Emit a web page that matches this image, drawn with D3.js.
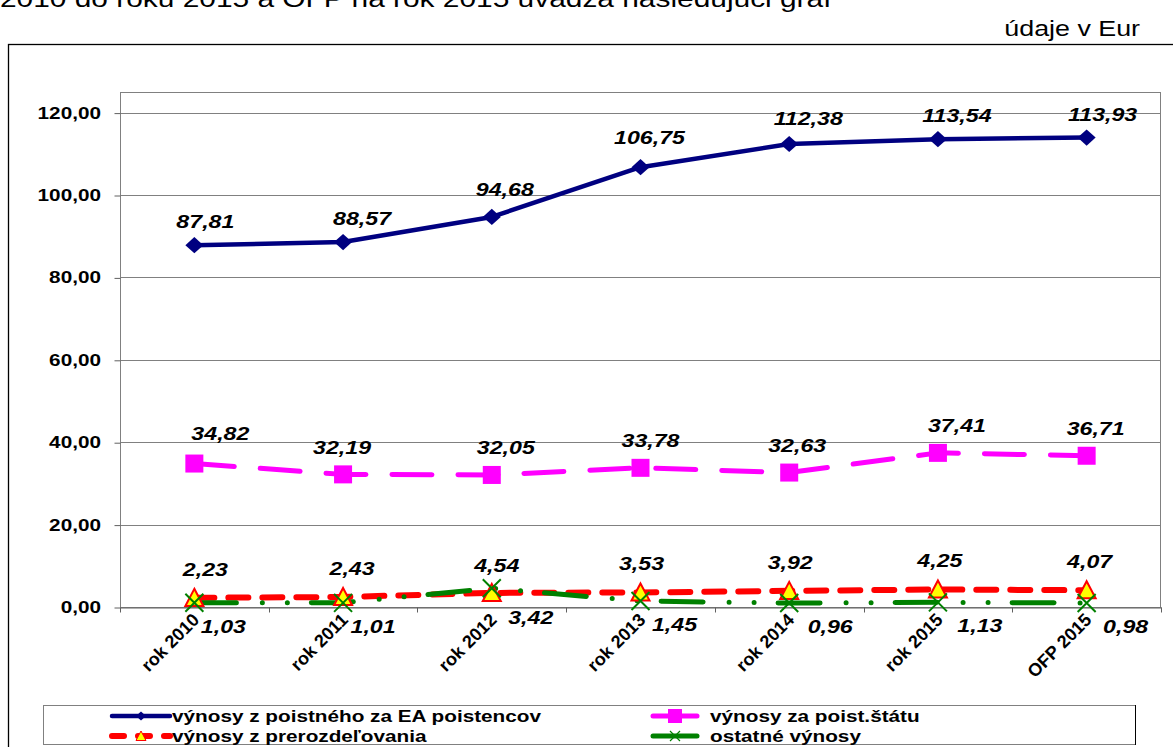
<!DOCTYPE html>
<html>
<head>
<meta charset="utf-8">
<script src="https://cdn.jsdelivr.net/npm/d3@7/dist/d3.min.js"></script>
<style>
	body { margin: 0; background: #fff; }
	svg { display: block; }
	text { font-family: "Liberation Sans", Arial, sans-serif; fill: #000; }
</style>
</head>
<body>
<svg id="chart" width="1173" height="747"></svg>
<script>
var categories = ['rok 2010', 'rok 2011', 'rok 2012', 'rok 2013', 'rok 2014', 'rok 2015', 'OFP 2015'];
var poistneEA = [87.81, 88.57, 94.68, 106.75, 112.38, 113.54, 113.93];
var poistStatu = [34.82, 32.19, 32.05, 33.78, 32.63, 37.41, 36.71];
var prerozdelovanie = [2.23, 2.43, 3.42, 3.53, 3.92, 4.25, 4.07];
var ostatne = [1.03, 1.01, 4.54, 1.45, 0.96, 1.13, 0.98];
var yTicks = [0, 20, 40, 60, 80, 100, 120];
var seriesNames = ['výnosy z poistného za EA poistencov', 'výnosy za poist.štátu', 'výnosy z prerozdeľovania', 'ostatné výnosy'];

// label nudges (dx, dy of label centre from its point)
var labelDx = {
	ea: [11, 19, 13, 9, 19, 19, 16],
	st: [26, -1, 14, 10, 8, 19, 9],
	pr: [11, 9, 39, 1, 1, 2, 3],
	os: [29, 30, 5, 34, 41, 42, 39]
};
var labelDy = {
	ea: [-24, -24, -28, -30, -26, -24, -24],
	st: [-31, -27, -28, -28, -28, -28, -28],
	pr: [-29, -29, 24, -29, -29, -29, -29],
	os: [23, 23, -23, 23, 23, 23, 23]
};

var SX = 1.22; // picture is stretched sideways
var svg = d3.select('#chart');

var x = d3.scaleBand().domain(categories).range([120, 1161]);
var y = d3.scaleLinear().domain([0, 125]).range([607, 92]);
var cx = function (i) { return x(categories[i]) + x.bandwidth() / 2; };
var fmt = function (v) { return v.toFixed(2).replace('.', ','); };

function stext(parent, px, py, str, o) {
	var sx = o.sx || SX;
	var g = parent.append('g')
		.attr('transform', 'translate(' + px + ',' + py + ') scale(' + sx + ',1)' + (o.rotate ? ' rotate(' + o.rotate + ')' : ''));
	return g.append('text')
		.attr('text-anchor', o.anchor || 'start')
		.style('font-size', o.size + 'px')
		.style('font-weight', o.weight || 'bold')
		.style('font-style', o.italic ? 'italic' : 'normal')
		.text(str);
}

// heading text
stext(svg, 0, 7, '2010 do roku 2015 a OFP na rok 2015 uvádza nasledujúci graf', { size: 24.5, weight: 'normal' });
stext(svg, 1140, 36, 'údaje v Eur', { size: 22, weight: 'normal', anchor: 'end' });

// chart frame
svg.append('rect').attr('x', 8.5).attr('y', 44.5).attr('width', 1300).attr('height', 800)
	.attr('fill', 'none').attr('stroke', '#000').attr('stroke-width', 1.3);

// gridlines
svg.append('g').selectAll('line').data(yTicks.filter(function (d) { return d > 0; })).enter().append('line')
	.attr('x1', 120).attr('x2', 1161)
	.attr('y1', function (d) { return Math.round(y(d)) + 0.5; })
	.attr('y2', function (d) { return Math.round(y(d)) + 0.5; })
	.attr('stroke', '#808080').attr('stroke-width', 1);

svg.append('rect').attr('x', 120.5).attr('y', 92.5).attr('width', 1040).attr('height', 515)
	.attr('fill', 'none').attr('stroke', '#808080').attr('stroke-width', 1);

// y axis
var yAxis = d3.axisLeft(y).tickValues(yTicks).tickSize(6).tickFormat('');
var ya = svg.append('g').attr('transform', 'translate(120.5,0.5)').call(yAxis);
ya.selectAll('line, path').attr('stroke', '#606060');
ya.select('.domain').remove();
yTicks.forEach(function (t) {
	stext(svg, 101, y(t) + 6, fmt(t), { size: 17, anchor: 'end' });
});

// x axis
var xa = svg.append('g').attr('transform', 'translate(0.5,' + 607.5 + ')')
	.call(d3.axisBottom(x).tickSize(0).tickFormat(''));
xa.select('.domain').attr('stroke', '#606060');
var bounds = categories.map(function (c) { return x(c); }).concat([1161]);
xa.selectAll('.bnd').data(bounds).enter().append('line')
	.attr('x1', function (d) { return Math.round(d); }).attr('x2', function (d) { return Math.round(d); })
	.attr('y1', 0).attr('y2', 5).attr('stroke', '#606060');
categories.forEach(function (c, i) {
	stext(svg, cx(i) + 6, 621, c, { size: 18, anchor: 'end', rotate: -45, sx: 1 });
});

// series
var line = d3.line().x(function (d, i) { return cx(i); }).y(function (d) { return y(d); });

var series = [
	{ key: 'ea', values: poistneEA, color: '#000080', width: 4.5, dash: null, marker: 'diamond' },
	{ key: 'st', values: poistStatu, color: '#FF00FF', width: 5, dash: '40 26', marker: 'square' },
	{ key: 'pr', values: prerozdelovanie, color: '#FF0000', width: 6, dash: '20 14', marker: 'triangle' },
	{ key: 'os', values: ostatne, color: '#008000', width: 5, dash: '42 26 0 25 0 24', marker: 'cross' }
];

function marker(g, type, s, color) {
	if (type === 'diamond') {
		g.append('path').attr('d', 'M0,' + (-s * 0.9) + 'L' + s + ',0L0,' + (s * 0.9) + 'L' + (-s) + ',0Z').attr('fill', color);
	} else if (type === 'square') {
		g.append('rect').attr('x', -s).attr('y', -s).attr('width', 2 * s).attr('height', 2 * s).attr('fill', color);
	} else if (type === 'triangle') {
		g.append('path').attr('d', 'M0,' + (-s) + 'L' + s + ',' + (s * 0.9) + 'L' + (-s) + ',' + (s * 0.9) + 'Z')
			.attr('fill', '#FFFF00').attr('stroke', '#FF0000').attr('stroke-width', s > 5 ? 2 : 1);
	} else {
		g.append('path').attr('d', 'M' + (-s) + ',' + (-s) + 'L' + s + ',' + s + 'M' + s + ',' + (-s) + 'L' + (-s) + ',' + s)
			.attr('stroke', color).attr('stroke-width', s > 5 ? 2 : 1.2).attr('fill', 'none');
	}
}

series.forEach(function (s) {
	svg.append('path').datum(s.values).attr('d', line)
		.attr('fill', 'none').attr('stroke', s.color).attr('stroke-width', s.width)
		.attr('stroke-linecap', 'round').attr('stroke-linejoin', 'round')
		.attr('stroke-dasharray', s.dash);
});
series.forEach(function (s) {
	s.values.forEach(function (v, i) {
		var g = svg.append('g').attr('transform', 'translate(' + cx(i) + ',' + y(v) + ')');
		marker(g, s.marker, 9, s.color);
	});
});

// data labels
series.forEach(function (s) {
	s.values.forEach(function (v, i) {
		stext(svg, cx(i) + labelDx[s.key][i], y(v) + labelDy[s.key][i] + 7, fmt(v),
			{ size: 19, italic: true, anchor: 'middle' });
	});
});

// legend
var lg = svg.append('g');
lg.append('rect').attr('x', 43.5).attr('y', 705.5).attr('width', 1092).attr('height', 39)
	.attr('fill', '#fff').attr('stroke', '#808080');
lg.append('line').attr('x1', 1135.5).attr('x2', 1135.5).attr('y1', 705).attr('y2', 745).attr('stroke', '#000');
var legendPos = [[112, 170, 716], [653, 697, 716], [112, 170, 736], [653, 697, 736]];
series.forEach(function (s, k) {
	var p = legendPos[k];
	lg.append('line').attr('x1', p[0]).attr('x2', p[1]).attr('y1', p[2]).attr('y2', p[2])
		.attr('stroke', s.color).attr('stroke-width', s.width)
		.attr('stroke-linecap', 'round')
		.attr('stroke-dasharray', s.key === 'pr' ? '12 14' : null);
	var m = lg.append('g').attr('transform', 'translate(' + ((p[0] + p[1]) / 2) + ',' + p[2] + ')');
	marker(m, s.marker, s.marker === 'square' ? 7 : 5, s.color);
	stext(lg, p[1] + (k % 2 ? 13 : 2), p[2] + 6, seriesNames[k], { size: 17 });
});
</script>
</body>
</html>
